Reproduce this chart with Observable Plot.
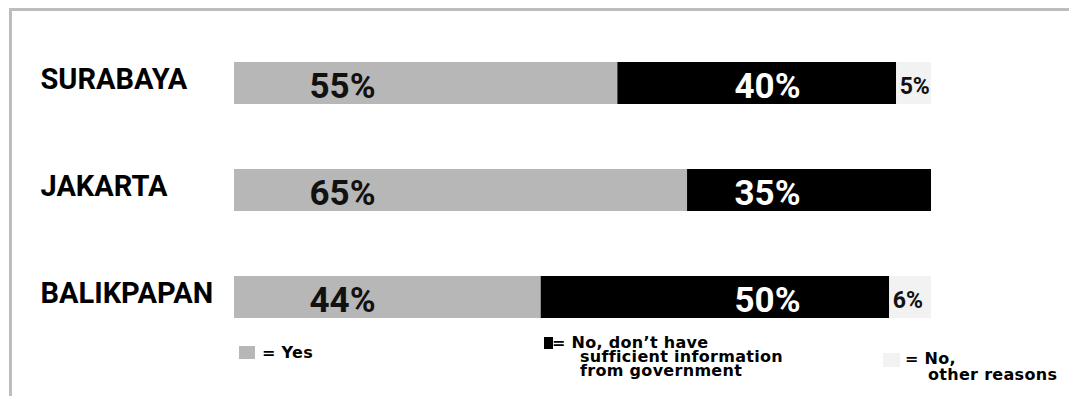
<!DOCTYPE html>
<html>
<head>
<meta charset="utf-8">
<script src="https://cdn.jsdelivr.net/npm/d3@7"></script>
<script src="https://cdn.jsdelivr.net/npm/@observablehq/plot@0.6"></script>
<style>
  html, body { margin: 0; padding: 0; background: #fff; }
  body { width: 1069px; height: 396px; overflow: hidden; position: relative; }
  .frame { position: absolute; left: 9px; top: 8px; width: 1200px; height: 500px;
           border-left: 3px solid #bdbdbd; border-top: 3px solid #bdbdbd; box-sizing: border-box; }
  #chart { position: absolute; left: 0; top: 0; }
  .lg { position: absolute; font-family: "DejaVu Sans", sans-serif; font-weight: bold;
        font-size: 16px; line-height: 14px; letter-spacing: 0.3px; color: #000; white-space: nowrap; }
  .lg span { display: block; }
  .sw { position: absolute; }
</style>
</head>
<body>
<div class="frame"></div>
<div id="chart"></div>
<div id="legend"></div>
<script>
// ---- data ----
const cities = ["SURABAYA", "JAKARTA", "BALIKPAPAN"];
const seriesNames = ["Yes", "No, don't have sufficient information from government", "No, other reasons"];
const yesValues = [55, 65, 44];
const noInfoValues = [40, 35, 50];
const noOtherValues = [5, 0, 6];
const seriesColors = ["#b7b7b7", "#000000", "#f2f2f2"];
const legendLabels = [["= Yes"], ["= No, don’t have", "sufficient information", "from government"], ["= No,", "other reasons"]];

const rows = [];
cities.forEach((c, i) => {
  [yesValues[i], noInfoValues[i], noOtherValues[i]].forEach((v, j) => {
    rows.push({city: c, series: seriesNames[j], value: v});
  });
});
const yesRows = cities.map((c, i) => ({city: c, value: yesValues[i]}));
const noInfoRows = cities.map((c, i) => ({city: c, value: noInfoValues[i]}));
const otherRows = cities.map((c, i) => ({city: c, value: noOtherValues[i], start: yesValues[i] + noInfoValues[i]}))
  .filter(d => d.value > 0);

const chart = Plot.plot({
  width: 1069,
  height: 332,
  marginLeft: 234,
  marginRight: 138,
  marginTop: 0,
  marginBottom: 0,
  style: {background: "transparent", overflow: "visible"},
  x: {domain: [0, 100], range: [234, 931], axis: null},
  y: {domain: cities, range: [61, 319], paddingInner: 0.611, paddingOuter: 0, label: null},
  color: {domain: seriesNames, range: seriesColors},
  marks: [
    Plot.barX(rows, Plot.stackX({y: "city", x: "value", fill: "series", order: seriesNames, inset: 0})),
    Plot.axisY({tickSize: 0, tickPadding: 0, textAnchor: "start", dx: -194, dy: -4,
                fontSize: 29, fontWeight: "bold", fontFamily: "Roboto", fill: "#000", label: null}),
    Plot.text(yesRows, {y: "city", text: d => d.value + "%", frameAnchor: "left", textAnchor: "middle", dx: 108, dy: 3,
                        fontSize: 35, fontWeight: "bold", fontFamily: "Roboto", fill: "#111"}),
    Plot.text(noInfoRows, {y: "city", text: d => d.value + "%", frameAnchor: "left", textAnchor: "middle", dx: 533, dy: 3,
                           fontSize: 35, fontWeight: "bold", fontFamily: "Roboto", fill: "#fff"}),
    Plot.text(otherRows, {y: "city", x: "start", text: d => d.value + "%", textAnchor: "start", dx: 3, dy: 3,
                          fontSize: 23, fontWeight: "bold", fontFamily: "Roboto", fill: "#111"})
  ]
});
document.getElementById("chart").appendChild(chart);

// ---- legend (HTML, below bars) ----
const lg = document.getElementById("legend");
const swatches = [
  {left: 239, top: 346, w: 16, h: 13},
  {left: 544, top: 337, w: 9, h: 12},
  {left: 883, top: 353, w: 17, h: 14}
];
const textPos = [
  {left: 262, top: 346, indent: 0},
  {left: 552, top: 336, indent: 28},
  {left: 905, top: 352, indent: 23}
];
seriesNames.forEach((s, i) => {
  const sw = document.createElement("div");
  sw.className = "sw";
  Object.assign(sw.style, {left: swatches[i].left + "px", top: swatches[i].top + "px",
    width: swatches[i].w + "px", height: swatches[i].h + "px", background: seriesColors[i]});
  lg.appendChild(sw);
  const d = document.createElement("div");
  d.className = "lg";
  d.style.left = textPos[i].left + "px";
  d.style.top = textPos[i].top + "px";
  legendLabels[i].forEach((t, k) => {
    const sp = document.createElement("span");
    sp.textContent = t;
    if (k > 0) sp.style.marginLeft = textPos[i].indent + "px";
    if (i === 2 && k > 0) sp.style.marginTop = "2px";
    d.appendChild(sp);
  });
  lg.appendChild(d);
});
</script>
</body>
</html>
